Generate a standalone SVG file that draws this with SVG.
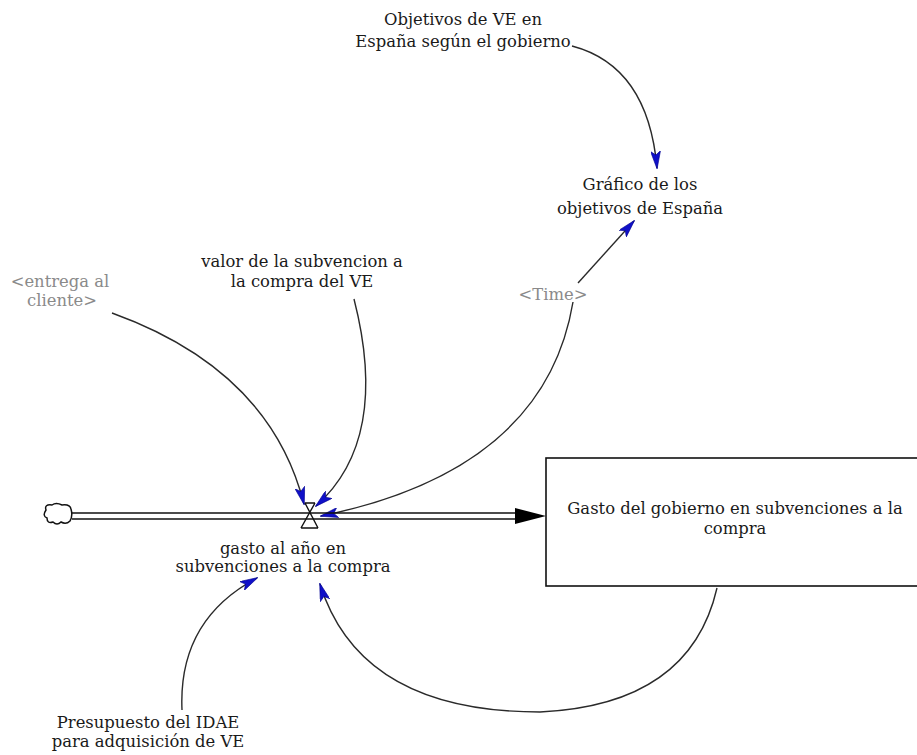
<svg xmlns="http://www.w3.org/2000/svg" width="917" height="755" viewBox="0 0 917 755">
<style>
.t{font-family:"DejaVu Serif","Liberation Serif",serif;font-size:16.4px;fill:#1a1a1a;text-anchor:middle}
.g{fill:#8a8a8a}
.c{fill:none;stroke:#2a2a2a;stroke-width:1.4}
.p{stroke:#111;stroke-width:1.6;fill:none}
</style>
<defs>
<marker id="a" viewBox="0 0 18 10" refX="17" refY="5" markerWidth="18" markerHeight="10" markerUnits="userSpaceOnUse" orient="auto">
<path d="M0,0 L18,5 L0,10 L4,5 Z" fill="#1010c8" stroke="#000090" stroke-width="0.6"/>
</marker>
</defs>
<rect width="917" height="755" fill="#fff"/>
<g id="connectors">
<path class="c" marker-end="url(#a)" d="M572,46 Q648,66 657,168"/>
<path class="c" marker-end="url(#a)" d="M578,283 L634,221"/>
<path class="c" marker-end="url(#a)" d="M573,302 Q545,470 321,516"/>
<path class="c" marker-end="url(#a)" d="M354,299 Q390,440 316,506"/>
<path class="c" marker-end="url(#a)" d="M112,313 Q270,370 304,504"/>
<path class="c" marker-end="url(#a)" d="M182,710 Q178,620 257,578"/>
<path class="c" marker-end="url(#a)" d="M717,588 Q690,705 540,712 Q360,712 320,584"/>
</g>
<g id="flow">
<line class="p" x1="72" y1="513" x2="520" y2="513"/>
<line class="p" x1="72" y1="519" x2="520" y2="519"/>
<path d="M515,508 L546,516 L515,524 Z" fill="#000"/>
</g>
<g id="cloud">
<path d="M46,510 Q44,504 52,505 Q56,502 62,505 Q70,504 71,509 Q73,516 70,521 Q66,525 61,522 Q57,526 53,522 Q47,524 47,518 Q42,516 46,510 Z" fill="#fff" stroke="#111" stroke-width="1.5"/>
</g>
<g id="valve">
<path d="M305,503 L315,503 M301,528 L318,528 M305,503 L318,528 M315,503 L301,528" stroke="#111" stroke-width="1.4" fill="none"/>
<text class="t" x="283" y="554">gasto al año en</text>
<text class="t" x="283" y="572">subvenciones a la compra</text>
</g>
<g id="stock">
<rect x="546" y="458" width="400" height="128" fill="#fff" stroke="#111" stroke-width="1.6"/>
<text class="t" x="735" y="514">Gasto del gobierno en subvenciones a la</text>
<text class="t" x="735" y="534">compra</text>
</g>
<g id="objetivos">
<text class="t" x="463" y="25">Objetivos de VE en</text>
<text class="t" x="463" y="47">España según el gobierno</text>
</g>
<g id="grafico">
<text class="t" x="640" y="190">Gráfico de los</text>
<text class="t" x="640" y="214">objetivos de España</text>
</g>
<g id="valor">
<text class="t" x="302" y="267">valor de la subvencion a</text>
<text class="t" x="302" y="287">la compra del VE</text>
</g>
<g id="entrega">
<text class="t g" x="60" y="287">&lt;entrega al</text>
<text class="t g" x="62" y="306">cliente&gt;</text>
</g>
<g id="time">
<text class="t g" x="553" y="300">&lt;Time&gt;</text>
</g>
<g id="presupuesto">
<text class="t" x="148" y="728">Presupuesto del IDAE</text>
<text class="t" x="148" y="747">para adquisición de VE</text>
</g>
</svg>
